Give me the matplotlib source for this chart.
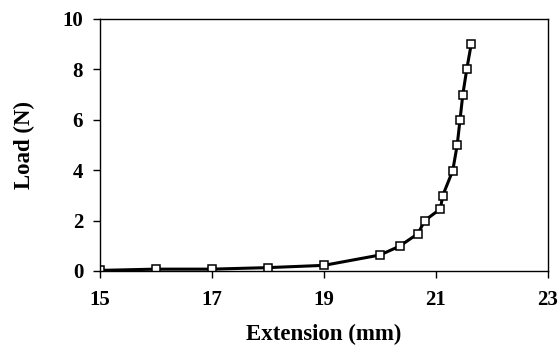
import matplotlib
matplotlib.use("Agg")
import matplotlib.pyplot as plt

# load-extension data
extension = [15.0, 16.0, 17.0, 18.0, 19.0, 20.0, 20.35, 20.68, 20.8,
             21.08, 21.12, 21.3, 21.38, 21.43, 21.48, 21.55, 21.63]
load = [0.02, 0.07, 0.07, 0.13, 0.22, 0.63, 0.98, 1.48, 2.0,
        2.46, 2.98, 3.98, 5.0, 6.0, 7.0, 8.0, 9.0]

x_ticks = [15, 17, 19, 21, 23]
y_ticks = [0, 2, 4, 6, 8, 10]

plt.rcParams['font.family'] = ['Liberation Serif', 'DejaVu Serif']
plt.rcParams['font.weight'] = 'bold'

fig = plt.figure(figsize=(5.58, 3.5), dpi=100)
ax = fig.add_axes([0.179, 0.226, 0.803, 0.72])

ax.plot(extension, load, color='black', linewidth=2.2, marker='s',
        markersize=5.5, markerfacecolor='white', markeredgecolor='black',
        markeredgewidth=1.1)

ax.set_xlim(15, 23)
ax.set_ylim(0, 10)
ax.set_xticks(x_ticks)
ax.set_yticks(y_ticks)
ax.tick_params(direction='out', length=5, width=1.0, labelsize=15)
ax.tick_params(axis='x', pad=9)
ax.tick_params(axis='y', pad=7)
for s in ax.spines.values():
    s.set_linewidth(1.0)

ax.set_xlabel('Extension (mm)', fontsize=16.5, fontweight='bold', labelpad=10)
ax.set_ylabel('Load (N)', fontsize=16.5, fontweight='bold', labelpad=20)

fig.savefig('out.png', dpi=100)
